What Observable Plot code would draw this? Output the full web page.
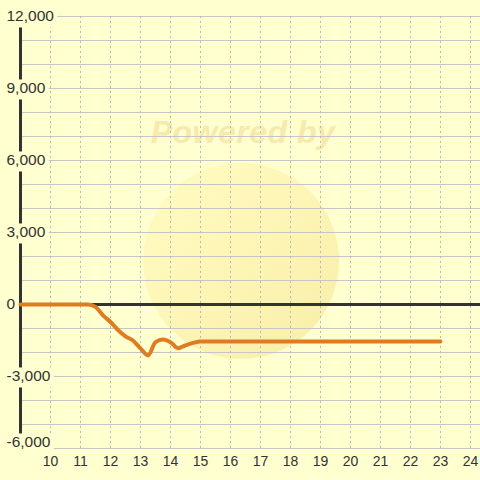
<!DOCTYPE html>
<html>
<head>
<meta charset="utf-8">
<script src="https://cdn.jsdelivr.net/npm/d3@7"></script>
<script src="https://cdn.jsdelivr.net/npm/@observablehq/plot@0.6"></script>
<style>
  body { margin: 0; background: #ffffd0; }
  #wrap { position: relative; width: 480px; height: 480px; background: #ffffd0; overflow: hidden; }
  #wm-circle { position: absolute; left: 143px; top: 163px; width: 196px; height: 196px; border-radius: 50%;
    background: linear-gradient(135deg, #fffbc0 0%, #fdf4b2 50%, #f7eca6 100%); opacity: 0.9; }
  #wm-text { position: absolute; left: 0; width: 486px; top: 114px; text-align: center;
    font: bold italic 32px "Liberation Sans", Arial, sans-serif; color: #f6eaad; letter-spacing: 0.5px; }
  #chart { position: absolute; left: 0; top: 0; }
</style>
</head>
<body>
<div id="wrap">
  <div id="wm-circle"></div>
  <div id="wm-text">Powered by</div>
  <div id="chart"></div>
</div>
<script>
const hours = [9, 11, 11.25, 11.5, 11.75, 12, 12.25, 12.5, 12.75, 13, 13.25, 13.5, 13.75, 14, 14.25, 14.5, 14.75, 15, 16, 17, 18, 19, 20, 21, 22, 23];
const values = [0, 0, 0, -100, -450, -730, -1060, -1330, -1500, -1830, -2120, -1570, -1460, -1570, -1820, -1700, -1600, -1540, -1540, -1540, -1540, -1540, -1540, -1540, -1540, -1540];
const xTicks = [10, 11, 12, 13, 14, 15, 16, 17, 18, 19, 20, 21, 22, 23, 24];
const yGrid = d3.range(-6000, 12001, 1000);
const yTicks = [-6000, -3000, 0, 3000, 6000, 9000, 12000];

const data = hours.map((h, i) => ({h, v: values[i]}));
const bg = "#ffffd0";
const fmt = d3.format(",");

const chart = Plot.plot({
  width: 480,
  height: 480,
  marginLeft: 20,
  marginRight: 0,
  marginTop: 16,
  marginBottom: 32,
  style: {background: "transparent", fontFamily: "'Liberation Sans', Arial, sans-serif"},
  x: {type: "linear", domain: [9, 9 + 460 / 30], axis: null},
  y: {domain: [-6000, 12000], axis: null},
  marks: [
    Plot.ruleY(yGrid, {stroke: "#c6c6c6", strokeWidth: 1.2}),
    Plot.ruleX(xTicks, {stroke: "#b8b8b8", strokeWidth: 1, strokeDasharray: "2,3"}),
    Plot.ruleX([9], {stroke: "#333333", strokeWidth: 3}),
    Plot.ruleY([0], {stroke: "#333333", strokeWidth: 3}),
    Plot.line(data, {x: "h", y: "v", stroke: "#e07b21", strokeWidth: 4, curve: "monotone-x"}),
    Plot.text(yTicks, {
      y: d => d, frameAnchor: "left", dx: -14, textAnchor: "start",
      text: d => fmt(d).replace("−", "-"), fontSize: 15.5, fill: "#333333",
      className: "ylab"
    }),
    Plot.text(xTicks, {
      x: d => d, frameAnchor: "bottom", dy: 13, lineAnchor: "middle",
      text: d => String(d), fontSize: 14, fill: "#333333"
    })
  ]
});
document.getElementById("chart").appendChild(chart);

// opaque label backgrounds, as in the reference
const labels = d3.select(chart).selectAll(".ylab text");
labels.filter(function() { return this.textContent === "-6,000"; }).attr("dy", "-6");
labels.each(function() {
  const t = this;
  if (t.textContent === "0") return;
  const b = t.getBBox();
  const tr = t.getAttribute("transform");
  const r = document.createElementNS("http://www.w3.org/2000/svg", "rect");
  r.setAttribute("x", b.x - 1);
  r.setAttribute("y", b.y);
  r.setAttribute("width", b.width + 4);
  r.setAttribute("height", b.height + 3);
  r.setAttribute("fill", bg);
  if (tr) r.setAttribute("transform", tr);
  t.parentNode.insertBefore(r, t);
});
</script>
</body>
</html>
